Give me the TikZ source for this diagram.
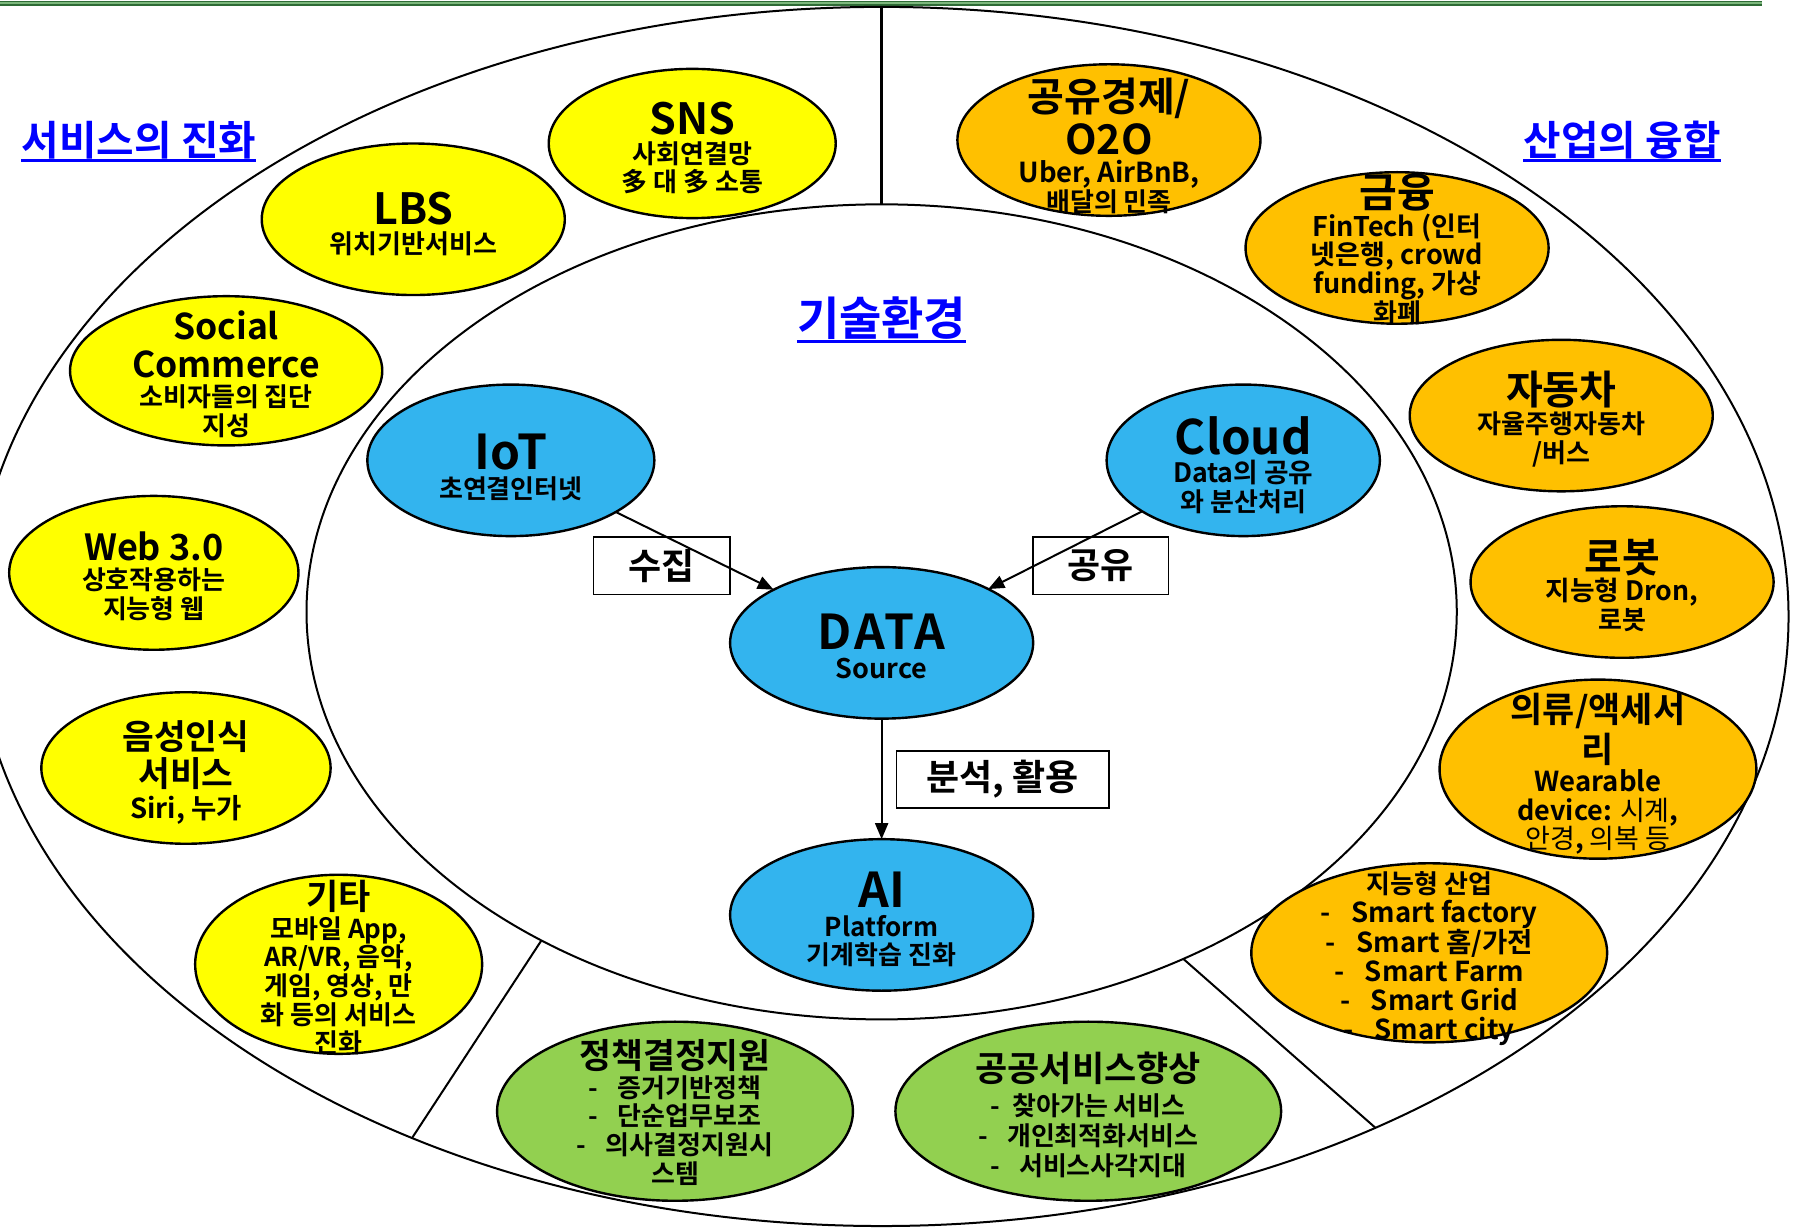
\documentclass[tikz,border=0pt]{standalone}
\usepackage{fontspec}
\setmainfont{Noto Sans CJK KR}[BoldFont={Noto Sans CJK KR Bold}]
\usetikzlibrary{shapes.geometric,arrows.meta}
\definecolor{cyellow}{HTML}{FFFF00}
\definecolor{corange}{HTML}{FFC000}
\definecolor{cgreen}{HTML}{92D050}
\definecolor{cblue}{HTML}{33B4EE}
\definecolor{ctitle}{HTML}{0000FF}
\definecolor{gdark}{HTML}{2E6B35}
\definecolor{glight}{HTML}{7DB87D}
\newcommand\T[2]{{\fontsize{#1}{#1}\selectfont #2}}
\newcommand\dash{-\hspace{0.75em}}
\begin{document}
\begin{tikzpicture}[x=1.148pt, y=-1.148pt,
  ell/.style 2 args={ellipse, draw, line width=2.4pt, inner sep=0pt, outer sep=0pt, minimum width={#1*2.296pt}, minimum height={#2*2.296pt}},
  big/.style 2 args={ellipse, draw, line width=2pt, inner sep=0pt, outer sep=0pt, minimum width={#1*2.296pt}, minimum height={#2*2.296pt}},
  txt/.style={align=center, inner sep=0pt, font=\bfseries\fontsize{26}{28.7}\selectfont},
  ttl/.style={text=ctitle, inner sep=0pt, font=\bfseries\fontsize{40.8}{40.8}\selectfont},
  lab/.style={draw, line width=1.6pt, inner sep=0pt, minimum height=57.4pt, font=\bfseries\fontsize{36}{36}\selectfont},
  arr/.style={line width=2pt, -{Triangle[length=16pt,width=13pt]}},
  ul/.style={ctitle, line width=3pt}
]
\useasboundingbox (0,0) rectangle (1568,1071);
% top rule
\fill[glight] (0,1.5) rectangle (1535,4);
\draw[gdark, line width=1.4pt] (0,1.13) -- (1535,1.13);
\draw[gdark, line width=2pt] (0,4.4) -- (1535,4.4);
% big ellipses
\node[big={790}{531}] (outer) at (768,537) {};
\node[big={501}{355}] (inner) at (768,533) {};
\draw[line width=2.6pt] (outer.north) -- (inner.north);
\draw[line width=2pt] (inner.224) -- (outer.228);
\draw[line width=2pt] (inner.-49) -- (outer.-46);
% section titles
\node[ttl] (t1) at (121,122) {서비스의 진화};
\node[ttl] (t2) at (1413,122) {산업의 융합};
\node[ttl, font=\bfseries\fontsize{46}{46}\selectfont] (t3) at (768,277) {기술환경};
\draw[ul] ([yshift=-5pt]t1.base west) -- ([yshift=-5pt]t1.base east);
\draw[ul] ([yshift=-5pt]t2.base west) -- ([yshift=-5pt]t2.base east);
\draw[ul] ([yshift=-6pt]t3.base west) -- ([yshift=-6pt]t3.base east);
% yellow
\node[ell={125}{65}, fill=cyellow] (sns) at (603,125) {};
\node[ell={132}{66}, fill=cyellow] (lbs) at (360,191) {};
\node[ell={136}{65}, fill=cyellow] (soc) at (197,323) {};
\node[ell={126}{67}, fill=cyellow] (web) at (134,499) {};
\node[ell={126}{66}, fill=cyellow] (voice) at (162,669) {};
\node[ell={125}{78}, fill=cyellow] (etc) at (295,840) {};
% orange
\node[ell={132}{66}, fill=corange] (o2o) at (966,122) {};
\node[ell={132}{66}, fill=corange] (fin) at (1217,216) {};
\node[ell={132}{66}, fill=corange] (car) at (1360,362) {};
\node[ell={132}{66}, fill=corange] (robot) at (1413,507) {};
\node[ell={138}{78}, fill=corange] (wear) at (1392,670) {};
\node[ell={155}{78}, fill=corange] (smart) at (1245,830) {};
% green
\node[ell={155}{78}, fill=cgreen] (policy) at (588,968) {};
\node[ell={168}{78}, fill=cgreen] (public) at (948,968) {};
% blue
\node[ell={125}{66}, fill=cblue] (iot) at (445,401) {};
\node[ell={119}{66}, fill=cblue] (cloud) at (1083,401) {};
\node[ell={132}{66}, fill=cblue] (data) at (768,560) {};
\node[ell={132}{66}, fill=cblue] (ai) at (768,797) {};
% label boxes
\node[lab, minimum width=136.6pt] (l1) at (576.5,493) {수집};
\node[lab, minimum width=135.5pt] (l2) at (959,493) {공유};
\node[lab, minimum width=212.4pt] (l3) at (873.5,679) {분석, 활용};
% arrows
\draw[arr] (iot) -- (data);
\draw[arr] (cloud) -- (data);
\draw[arr] (data) -- (ai);
% texts
\node[txt] (snsT) at (603,129) {\T{43}{SNS}\\사회연결망\\多 대 多 소통};
\node[txt] (lbsT) at (360,195) {\T{43}{LBS}\\위치기반서비스};
\node[txt] (socT) at (197,326) {\T{35.5}{Social}\\[9pt]\T{35.5}{Commerce}\\소비자들의 집단\\지성};
\node[txt] (webT) at (134,502) {\T{36}{Web 3.0}\\상호작용하는\\지능형 웹};
\node[txt] (voiceT) at (162,673) {\T{34.5}{음성인식}\\[4pt]\T{34.5}{서비스}\\[3pt]\T{27.5}{Siri, 누가}};
\node[txt] (etcT) at (295,843) {\T{35}{기타}\\모바일 App,\\AR/VR, 음악,\\게임, 영상, 만\\화 등의 서비스\\진화};
\node[txt] (iotT) at (445,407) {\T{48}{IoT}\\초연결인터넷};
\node[txt] (cloudT) at (1083,405) {\T{47.5}{Cloud}\\\T{26.7}{Data의 공유}\\와 분산처리};
\node[txt] (dataT) at (768,563) {\T{48}{\addfontfeatures{LetterSpace=6}DATA}\\\T{27}{Source}};
\node[txt] (aiT) at (768,801) {\T{48}{AI}\\Platform\\기계학습 진화};
\node[txt] (o2oT) at (966,127) {\T{40}{공유경제/}\\[4pt]\T{41}{O2O}\\\T{27.5}{Uber, AirBnB,}\\배달의 민족};
\node[txt] (finT) at (1217,217) {\T{41}{금융}\\\T{27}{FinTech (인터}\\\T{27}{넷은행, crowd}\\\T{27}{funding, 가상}\\화폐};
\node[txt] (carT) at (1360,365) {\T{40}{자동차}\\자율주행자동차\\/버스};
\node[txt] (robotT) at (1413,510) {\T{41}{로봇}\\\T{26.7}{지능형 Dron,}\\로봇};
\node[txt] (wearT) at (1392,674) {\T{35}{의류/액세서}\\[4pt]\T{35}{리}\\\T{27.5}{Wearable}\\\T{27}{device: \textmd{시계},}\\\T{27}{\textmd{안경}, \textmd{의복 등}}};
\node[txt] (smartT) at (1245,835) {지능형 산업\\\T{27.5}{\dash Smart factory}\\\T{27.5}{\dash Smart 홈/가전}\\\T{27.5}{\dash Smart Farm}\\\T{27.5}{\dash Smart Grid}\\\T{27.5}{\dash Smart city}};
\node[txt] (policyT) at (588,969) {\T{34.7}{정책결정지원}\\\dash 증거기반정책\\\dash 단순업무보조\\\dash 의사결정지원시\\스템};
\node[txt, font=\bfseries\fontsize{26}{30}\selectfont] (publicT) at (948,971) {\T{35}{공공서비스향상}\\[4pt]-\hspace{0.45em}찾아가는 서비스\\\dash 개인최적화서비스\\\dash 서비스사각지대};
\end{tikzpicture}
\end{document}
